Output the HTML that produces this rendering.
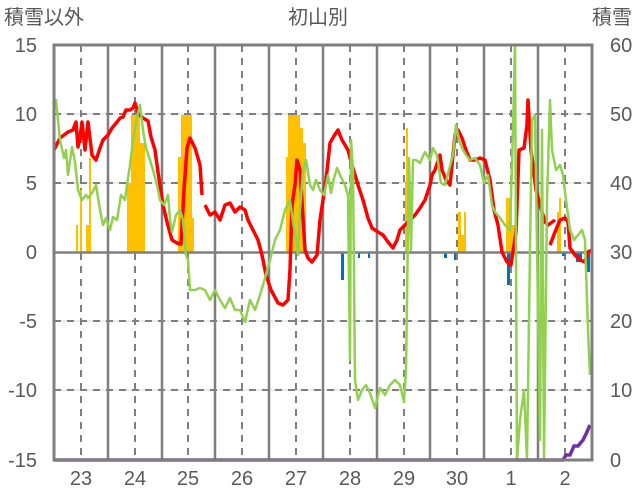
<!DOCTYPE html>
<html><head><meta charset="utf-8"><style>body{margin:0;background:#fff}svg{display:block}text{font-family:"Liberation Sans","Noto Sans CJK JP",sans-serif;fill:#595959;font-size:20px}</style></head><body>
<svg width="636" height="501" viewBox="0 0 636 501">
<g stroke="#d9d9d9" stroke-width="1"><line x1="54" y1="114" x2="592" y2="114"/><line x1="54" y1="183" x2="592" y2="183"/><line x1="54" y1="321" x2="592" y2="321"/><line x1="54" y1="390" x2="592" y2="390"/></g>
<g stroke="#7f7f7f" stroke-width="2" stroke-dasharray="7,6"><line x1="54" y1="114" x2="592" y2="114"/><line x1="54" y1="183" x2="592" y2="183"/><line x1="54" y1="321" x2="592" y2="321"/><line x1="54" y1="390" x2="592" y2="390"/>
<line x1="81" y1="45" x2="81" y2="460"/><line x1="135" y1="45" x2="135" y2="460"/><line x1="188" y1="45" x2="188" y2="460"/><line x1="242" y1="45" x2="242" y2="460"/><line x1="296" y1="45" x2="296" y2="460"/><line x1="350" y1="45" x2="350" y2="460"/><line x1="404" y1="45" x2="404" y2="460"/><line x1="457" y1="45" x2="457" y2="460"/><line x1="511" y1="45" x2="511" y2="460"/><line x1="565" y1="45" x2="565" y2="460"/></g>
<g stroke="#7f7f7f" stroke-width="2.5"><line x1="108" y1="45" x2="108" y2="460"/><line x1="162" y1="45" x2="162" y2="460"/><line x1="215" y1="45" x2="215" y2="460"/><line x1="269" y1="45" x2="269" y2="460"/><line x1="323" y1="45" x2="323" y2="460"/><line x1="377" y1="45" x2="377" y2="460"/><line x1="430" y1="45" x2="430" y2="460"/><line x1="484" y1="45" x2="484" y2="460"/><line x1="538" y1="45" x2="538" y2="460"/></g>
<g fill="#ffc000"><rect x="76" y="225" width="2" height="27"/><rect x="80" y="190" width="2" height="62"/><rect x="86" y="225" width="3" height="27"/><rect x="89" y="158" width="2" height="94"/>
<rect x="127" y="183" width="4" height="69"/><rect x="131" y="115" width="9" height="137"/><rect x="140" y="143" width="5" height="109"/>
<rect x="178" y="157" width="3" height="95"/><rect x="181" y="115" width="11" height="137"/><rect x="192" y="218" width="2" height="34"/>
<rect x="286" y="157" width="2" height="95"/><rect x="288" y="115" width="12" height="137"/><rect x="300" y="128" width="3" height="124"/><rect x="303" y="143" width="3" height="109"/>
<rect x="406" y="128" width="2" height="124"/><rect x="405" y="183" width="4" height="69"/>
<rect x="458" y="212" width="3" height="40"/><rect x="461" y="235" width="3" height="17"/><rect x="464" y="212" width="2" height="40"/>
<rect x="506" y="198" width="6" height="54"/><rect x="512" y="225" width="3" height="27"/><rect x="557" y="212" width="4" height="40"/><rect x="559" y="198" width="2" height="54"/></g>
<g fill="#0070c0"><rect x="341" y="252" width="3" height="28"/><rect x="358" y="252" width="2" height="6"/><rect x="368" y="252" width="2" height="6"/><rect x="444" y="252" width="3" height="6"/><rect x="454" y="252" width="2" height="8"/><rect x="507" y="252" width="3" height="33"/><rect x="562" y="252" width="3" height="4"/><rect x="576" y="252" width="6" height="10"/><rect x="587" y="252" width="3" height="20"/></g>
<line x1="54" y1="252.5" x2="592" y2="252.5" stroke="#7f7f7f" stroke-width="2.5"/>
<g fill="none" stroke="#ff0000" stroke-width="3.5" stroke-linejoin="round">
<polyline points="54,150 60,138 68,132 73,130 76,122 78,147 80,138 82,122 85,150 88,122 92,155 96,160 100,148 103,140 108,135 112,128 117,122 120,118 123,117 126,110 130,110 133,108 135,103 138,113 143,118 148,121 151,137 155,150 158,172 163,205 167,222 172,240 177,243 181,244 184,190 187,148 190,138 195,148 200,165 202,195"/>
<polyline points="205,205 210,215 215,212 220,220 225,205 230,203 235,212 240,207 245,210 248,220 252,228 258,240 262,255 266,275 271,290 278,303 283,305 288,300 290,270 292,205 295,185 297,160 300,170 305,250 308,258 312,262 317,255 320,220 323,200 326,180 330,143 334,136 338,130 342,140 348,150 352,165 358,185 363,200 368,218 372,228 378,232 383,235 388,242 393,248 397,240 400,230 405,225 410,220 415,215 420,208 425,200 430,185 432,175 435,170 440,155 442,170 446,180 450,185 455,135 458,130 462,138 466,150 470,160 475,160 480,158 485,160 490,180 494,210 498,225 502,252 507,262 511,265 516,232 519,150 524,148 527,125 528,100 531,150 536,190 540,205 545,222 548,225 555,220"/>
<polyline points="550,245 555,232 560,220 565,218 568,222 570,248 575,255 580,260 585,262 588,252 592,250"/></g>
<g fill="none" stroke="#92d050" stroke-width="2.5" stroke-linejoin="round">
<polyline points="54,110 56,100 60,140 64,158 66,150 68,175 72,147 75,162 78,190 82,200 86,195 88,198 92,193 96,185 100,210 103,225 106,218 110,230 113,217 117,220 121,195 125,200 127,185 130,165 133,140 135,130 137,117 140,105 143,130 146,148 150,160 153,170 157,185 160,200 164,205 168,195 170,220 172,232 176,215 180,210 183,220 186,255 188,260 190,290 195,290 200,288 205,290 210,300 215,290 220,300 225,308 230,298 235,310 240,310 245,322 250,300 255,310 260,295 265,278 270,260 275,240 280,230 285,210 290,200 293,222 296,240 298,255 300,210 303,170 306,160 310,185 313,190 316,180 320,190 324,195 328,175 331,193 334,178 337,168 340,175 345,185 348,195 350,360 351,140 353,170 355,380 358,400 362,390 366,385 370,393 375,408 380,388 385,395 390,385 395,380 400,385 404,402 406,370 409,158 411,250 413,160 416,160 420,163 425,152 430,160 433,148 437,155 441,183 445,185 449,170 453,155 456,125 459,140 462,148 466,155 470,160 475,158 480,165 484,183 488,175 492,205 495,212 500,218 505,225 510,230 513,130 515,45 517,460 520,420 524,390 527,460 530,250 532,120 535,115 540,440 542,130 544,460 547,200 550,100 552,150 556,170 560,165 563,175 566,200 570,230 574,240 578,235 582,230 585,240 588,330 590,375"/></g>
<polyline points="54,460 563,460 566,455 570,455 574,446 578,446 583,440 586,434 590,425" fill="none" stroke="#7030a0" stroke-width="3.5"/>
<rect x="54" y="45" width="538" height="415" fill="none" stroke="#7f7f7f" stroke-width="3"/>
<g text-anchor="end"><text x="37" y="52">15</text><text x="37" y="121">10</text><text x="37" y="190">5</text><text x="37" y="259">0</text><text x="37" y="328">-5</text><text x="37" y="397">-10</text><text x="37" y="467">-15</text></g>
<g><text x="610" y="52">60</text><text x="610" y="121">50</text><text x="610" y="190">40</text><text x="610" y="259">30</text><text x="610" y="328">20</text><text x="610" y="397">10</text><text x="610" y="467">0</text></g>
<g text-anchor="middle"><text x="81" y="485">23</text><text x="135" y="485">24</text><text x="188" y="485">25</text><text x="242" y="485">26</text><text x="296" y="485">27</text><text x="350" y="485">28</text><text x="404" y="485">29</text><text x="457" y="485">30</text><text x="511" y="485">1</text><text x="565" y="485">2</text>
<text x="318" y="24" font-size="19">初山別</text></g>
<text x="4" y="24" font-size="19">積雪以外</text><text x="592" y="24" font-size="19">積雪</text>
</svg></body></html>
